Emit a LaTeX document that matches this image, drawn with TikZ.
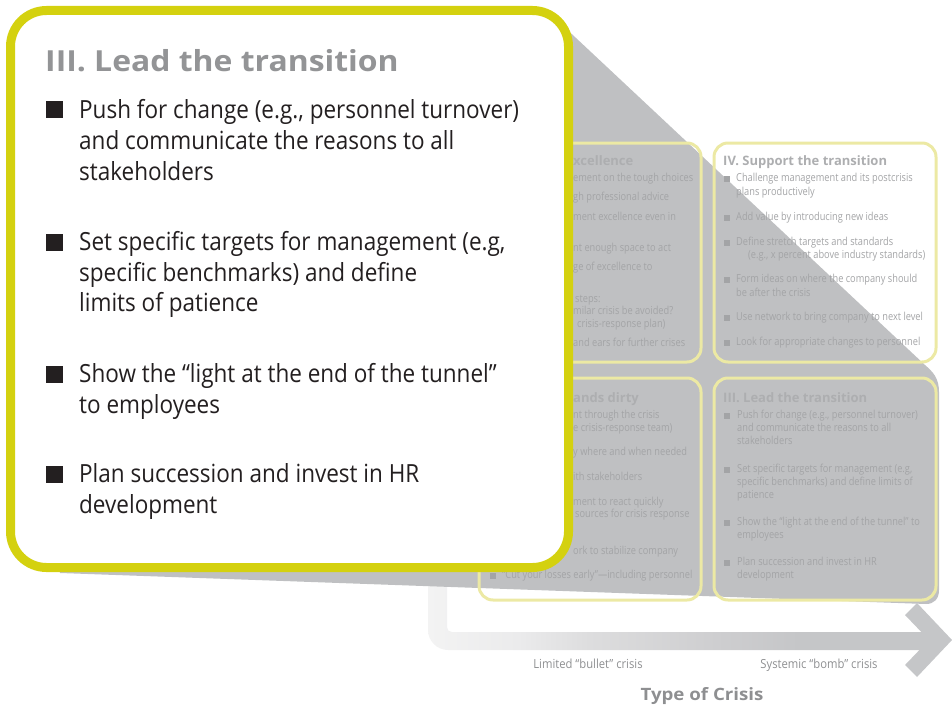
\documentclass[tikz,border=0pt]{standalone}
\usepackage{fontspec}
\newfontfamily\bodyfont{Open Sans}[FakeStretch=0.9]
\newfontfamily\smallfont{Open Sans}[FakeStretch=0.84]
\newfontfamily\boldfont{Open Sans}[BoldFeatures={FakeStretch=1.1}]
\newfontfamily\smboldfont{Open Sans}
\definecolor{calloutyellow}{HTML}{D4D10F}
\definecolor{projgray}{HTML}{BFC0C2}
\definecolor{panelborder}{HTML}{ECE9A4}
\definecolor{pantext}{HTML}{A3A4A6}
\definecolor{pantitle}{HTML}{ADAEB0}
\definecolor{bodytext}{HTML}{231F20}
\definecolor{titlegray}{HTML}{939496}
\definecolor{axislabel}{HTML}{8E8F91}
\definecolor{axisgray}{HTML}{C5C6C8}
\definecolor{axA}{HTML}{F3F3F3}
\definecolor{axB}{HTML}{EBEBEC}
\definecolor{axC}{HTML}{DDDDDE}
\definecolor{axD}{HTML}{CDCDCF}
\pgfdeclarehorizontalshading{axisshade}{100bp}{color(0bp)=(axA); color(25bp)=(axA); color(34bp)=(axB); color(41bp)=(axC); color(54.6bp)=(axD); color(62bp)=(axisgray); color(100bp)=(axisgray)}
\begin{document}
\begin{tikzpicture}[x=1pt,y=-1pt,
  panel/.style={draw=panelborder, line width=3pt, rounded corners=14pt, inner sep=0pt},
  sm/.style={font=\smallfont\fontsize{11}{13}\selectfont, text=pantext, inner sep=0pt, anchor=base west},
  smtitle/.style={font=\smboldfont\bfseries\fontsize{13}{15}\selectfont, text=pantitle, inner sep=0pt, anchor=base west},
  sq/.style={fill=pantext, minimum size=6pt, inner sep=0pt},
  body/.style={font=\bodyfont\fontsize{25}{30}\selectfont, text=bodytext, inner sep=0pt, anchor=base west},
  bigtitle/.style={font=\boldfont\bfseries\fontsize{29}{34}\selectfont, text=titlegray, inner sep=0pt, anchor=base west},
  bsq/.style={fill=bodytext, minimum size=17pt, inner sep=0pt},
  axlab/.style={font=\bodyfont\fontsize{12.5}{14}\selectfont, text=axislabel, inner sep=0pt, anchor=base},
  axtitle/.style={font=\boldfont\bfseries\fontsize{17}{19}\selectfont, text=axislabel, inner sep=0pt, anchor=base},
  callout/.style={draw=calloutyellow, fill=white, line width=9pt, rounded corners=36pt, inner sep=0pt}
]
\useasboundingbox (0,0) rectangle (952,706);

% axis (L-shaped bar with fading)
\shade[shading=axisshade] (428,560) -- (428,630) .. controls (428,641) and (437,650) .. (448,650)
  -- (930,650) -- (930,632) -- (452,632) .. controls (449,632) and (447,630) .. (447,627) -- (447,560) -- cycle;
\fill[axisgray] (905,615) -- (917,603) -- (952,640) -- (917,677) -- (905,665) -- (929,640) -- cycle;

% magnification projection
\fill[projgray] (560,23) -- (925,365) .. controls (933,372) and (939,378) .. (939,392)
  -- (939,590) .. controls (939,599) and (934,604) .. (926,604) -- (60,573) -- (30,23) -- cycle;

% panels
\node[panel, minimum width=223pt, minimum height=219pt] (p2) at (589.5,252.5) {};
\node[panel, minimum width=222pt, minimum height=219pt] (p4) at (825,252.5) {};
\node[panel, minimum width=222pt, minimum height=222pt] (p1) at (590,489) {};
\node[panel, minimum width=222pt, minimum height=222pt] (p3) at (825,489) {};

% panel II fragments
\node[smtitle] (f2t) at (573,165) {xcellence};
\node[sm] (f2a) at (573,181.5) {ement on the tough choices};
\node[sm] (f2b) at (573,200.5) {gh professional advice};
\node[sm] (f2c) at (573,220.5) {ment excellence even in};
\node[sm] (f2d) at (573,251.5) {nt enough space to act};
\node[sm] (f2e) at (573,270.5) {ge of excellence to};
\node[sm] (f2f) at (575,302) {steps:};
\node[sm] (f2g) at (573,314.5) {milar crisis be avoided?};
\node[sm] (f2h) at (577,327) {crisis-response plan)};
\node[sm] (f2i) at (573,346.5) {and ears for further crises};

% panel IV
\node[smtitle] (ivt) at (723,165) {IV. Support the transition};
\node[sq] (ivb1) at (727,178.5) {};
\node[sm] (iv1a) at (736,181.5) {Challenge management and its postcrisis};
\node[sm] (iv1b) at (736,195.5) {plans productively};
\node[sq] (ivb2) at (727,217.5) {};
\node[sm] (iv2) at (736,220.5) {Add value by introducing new ideas};
\node[sq] (ivb3) at (727,242.5) {};
\node[sm] (iv3a) at (736,245.5) {Define stretch targets and standards};
\node[sm] (iv3b) at (748,258.5) {(e.g., x percent above industry standards)};
\node[sq] (ivb4) at (727,279.5) {};
\node[sm] (iv4a) at (736,282.5) {Form ideas on where the company should};
\node[sm] (iv4b) at (736,296.5) {be after the crisis};
\node[sq] (ivb5) at (727,317.5) {};
\node[sm] (iv5) at (736,320.5) {Use network to bring company to next level};
\node[sq] (ivb6) at (727,342.5) {};
\node[sm] (iv6) at (736,345.5) {Look for appropriate changes to personnel};

% panel I fragments
\node[smtitle] (f1t) at (573,402) {ands dirty};
\node[sm] (f1a) at (573,418.5) {nt through the crisis};
\node[sm] (f1b) at (573,431.5) {e crisis-response team)};
\node[sm] (f1c) at (573,455.5) {y where and when needed};
\node[sm] (f1d) at (573,480.5) {ith stakeholders};
\node[sm] (f1e) at (573,505.5) {ment to react quickly};
\node[sm] (f1f) at (575,517.5) {sources for crisis response};
\node[sm] (f1g) at (573,554.5) {ork to stabilize company};
\node[sq] (f1b7) at (492.5,575.5) {};
\node[sm] (f1h) at (502,578.5) {“Cut your losses early”—including personnel};

% panel III
\node[smtitle] (iiit) at (723,402) {III. Lead the transition};
\node[sq] (iiib1) at (727,415.5) {};
\node[sm] (iii1a) at (737,418.5) {Push for change (e.g., personnel turnover)};
\node[sm] (iii1b) at (737,431.5) {and communicate the reasons to all};
\node[sm] (iii1c) at (737,444.5) {stakeholders};
\node[sq] (iiib2) at (727,469.5) {};
\node[sm] (iii2a) at (737,472.5) {Set specific targets for management (e.g,};
\node[sm] (iii2b) at (737,485.5) {specific benchmarks) and define limits of};
\node[sm] (iii2c) at (737,498.5) {patience};
\node[sq] (iiib3) at (727,522.5) {};
\node[sm] (iii3a) at (737,525.5) {Show the “light at the end of the tunnel” to};
\node[sm] (iii3b) at (737,538.5) {employees};
\node[sq] (iiib4) at (727,562.5) {};
\node[sm] (iii4a) at (737,565.5) {Plan succession and invest in HR};
\node[sm] (iii4b) at (737,578.5) {development};

% callout
\node[callout, minimum width=558pt, minimum height=557pt] (call) at (289.5,289) {};
\node[bigtitle] (ct) at (45,72) {III. Lead the transition};
\node[bsq] (cb1) at (54.2,110) {};
\node[body] (c1a) at (79,118) {Push for change (e.g., personnel turnover)};
\node[body] (c1b) at (79,149) {and communicate the reasons to all};
\node[body] (c1c) at (79,180) {stakeholders};
\node[bsq] (cb2) at (54.2,242) {};
\node[body] (c2a) at (79,250) {Set specific targets for management (e.g,};
\node[body] (c2b) at (79,281) {specific benchmarks) and define};
\node[body] (c2c) at (79,311) {limits of patience};
\node[bsq] (cb3) at (54.2,374) {};
\node[body] (c3a) at (79,382) {Show the “light at the end of the tunnel”};
\node[body] (c3b) at (79,413) {to employees};
\node[bsq] (cb4) at (54.2,474) {};
\node[body] (c4a) at (79,482) {Plan succession and invest in HR};
\node[body] (c4b) at (79,513) {development};

% axis labels
\node[axlab] (lim) at (588,668) {Limited “bullet” crisis};
\node[axlab] (sys) at (819,668) {Systemic “bomb” crisis};
\node[axtitle] (toc) at (702,700) {Type of Crisis};
\end{tikzpicture}
\end{document}
